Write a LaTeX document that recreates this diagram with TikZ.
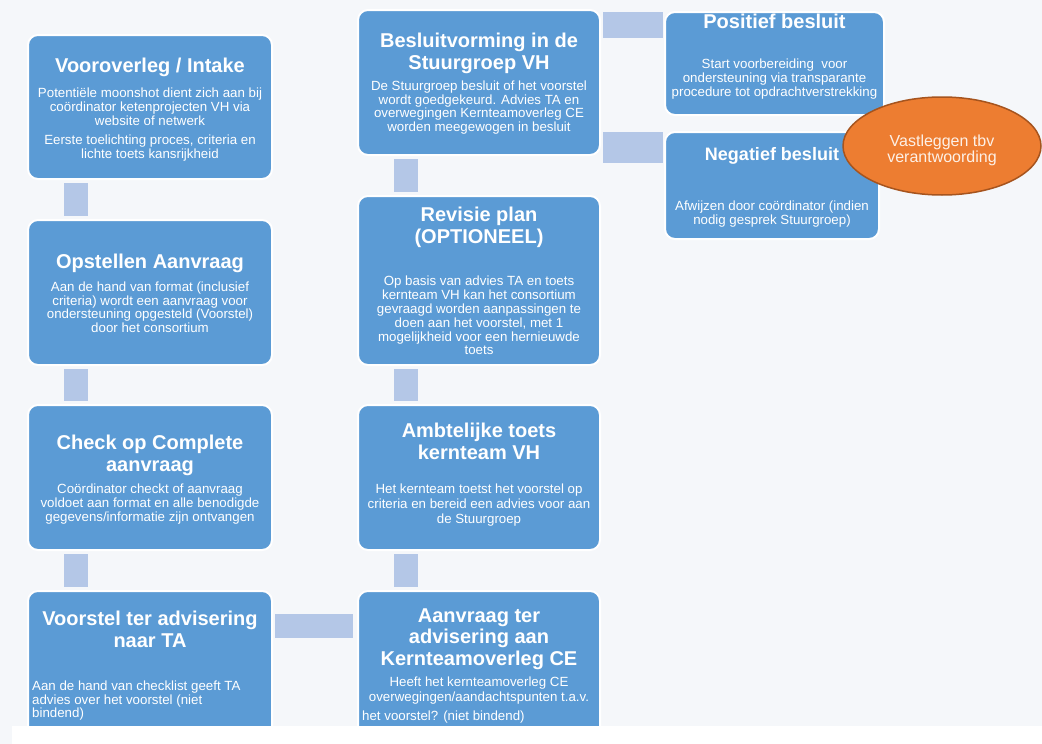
\documentclass[tikz,border=0pt]{standalone}
\usepackage{fontspec}
\setmainfont{Liberation Sans}
\usepackage{tikz}
\usetikzlibrary{positioning,shapes.geometric}
\definecolor{pagebg}{RGB}{245,247,250}
\definecolor{boxblue}{RGB}{91,155,213}
\definecolor{barblue}{RGB}{180,199,231}
\definecolor{myorange}{RGB}{237,125,49}
\definecolor{orangeedge}{RGB}{166,84,30}
\definecolor{paletext}{RGB}{253,240,230}
\tikzstyle{box}=[draw=white,line width=2pt,fill=boxblue,rounded corners=10pt,inner sep=0pt]
\tikzstyle{ttl}=[text=white,inner sep=0pt,align=center,font=\fontsize{20}{22}\selectfont\bfseries]
\tikzstyle{txt}=[text=white,inner sep=0pt,align=center,font=\fontsize{13.3}{13.8}\selectfont]
\tikzstyle{conn}=[draw=barblue,line width=24pt,shorten <=3pt,shorten >=3pt]
\tikzstyle{vast}=[ellipse,draw=orangeedge,line width=1.5pt,fill=myorange,text=paletext,
  minimum width=198pt,minimum height=98pt,inner sep=0pt,align=center,font=\fontsize{16}{16}\selectfont]

\begin{document}
\begin{tikzpicture}[x=1pt,y=-1pt]
\useasboundingbox (0,0) rectangle (1042,744);
\fill[pagebg] (0,0) rectangle (1042,744);

% linker kolom
\node[box,minimum width=244pt,minimum height=144pt,anchor=north west] (intake) at (27,34) {};
\node[box,minimum width=244pt,minimum height=145pt,below=39pt of intake] (opstel) {};
\node[box,minimum width=244pt,minimum height=145pt,below=38pt of opstel] (check) {};
\node[box,minimum width=244pt,minimum height=150pt,below=39pt of check] (voorstel) {};

% middelste kolom
\node[box,minimum width=242pt,minimum height=145pt,anchor=north west] (besluit) at (357,9) {};
\node[box,minimum width=242pt,minimum height=169pt,below=39pt of besluit] (revisie) {};
\node[box,minimum width=242pt,minimum height=145pt,below=38pt of revisie] (toets) {};
\node[box,minimum width=242pt,minimum height=150pt,below=39pt of toets] (kce) {};

% rechter kolom
\node[box,minimum width=219pt,minimum height=103pt,anchor=north west] (pos) at (664,11) {};
\node[box,minimum width=214pt,minimum height=107pt,anchor=north west] (neg) at (664,131) {};

% verbindingen
\draw[conn] ([xshift=49pt]intake.south west) -- ([xshift=49pt]opstel.north west);
\draw[conn] ([xshift=49pt]opstel.south west) -- ([xshift=49pt]check.north west);
\draw[conn] ([xshift=49pt]check.south west) -- ([xshift=49pt]voorstel.north west);
\draw[conn] ([xshift=48.5pt]besluit.south west) -- ([xshift=48.5pt]revisie.north west);
\draw[conn] ([xshift=48.5pt]revisie.south west) -- ([xshift=48.5pt]toets.north west);
\draw[conn] ([xshift=48.5pt]toets.south west) -- ([xshift=48.5pt]kce.north west);
\draw[conn,shorten <=2pt,shorten >=4pt] ([yshift=-35.5pt]voorstel.north east) -- ([yshift=-35.5pt]kce.north west);
\coordinate[below=14pt of pos.north west] (cpos);
\coordinate[below=16.5pt of neg.north west] (cneg);
\draw[conn,line width=26pt,shorten <=2pt,shorten >=1pt] (cpos -| besluit.east) -- (cpos);
\draw[conn,line width=31pt,shorten <=2pt,shorten >=1pt] (cneg -| besluit.east) -- (cneg);

% teksten
\node[ttl,below=24pt of intake.north] (intake-t) {Vooroverleg / Intake};
\node[txt,below=54pt of intake.north] (intake-b) {Potentiële moonshot dient zich aan bij\\coördinator ketenprojecten VH via\\website of netwerk\\[5pt]Eerste toelichting proces, criteria en\\lichte toets kansrijkheid};

\node[ttl,below=34.5pt of opstel.north] (opstel-t) {Opstellen Aanvraag};
\node[txt,font=\fontsize{13.3}{13.4}\selectfont,below=63pt of opstel.north] (opstel-b) {Aan de hand van format (inclusief\\criteria) wordt een aanvraag voor\\ondersteuning opgesteld (Voorstel)\\door het consortium};

\node[ttl,below=30.5pt of check.north] (check-t) {Check op Complete\\aanvraag};
\node[txt,below=80pt of check.north] (check-b) {Coördinator checkt of aanvraag\\voldoet aan format en alle benodigde\\gegevens/informatie zijn ontvangen};

\node[ttl,below=21pt of voorstel.north] (voorstel-t) {Voorstel ter advisering\\naar TA};
\node[txt,align=left,below right=90.5pt and 5pt of voorstel.north west] (voorstel-b) {Aan de hand van checklist geeft TA\\advies over het voorstel (niet\\bindend)};

\node[ttl,below=23.5pt of besluit.north] (besluit-t) {Besluitvorming in de\\Stuurgroep VH};
\node[txt,font=\fontsize{13.3}{13.4}\selectfont,below=72pt of besluit.north] (besluit-b) {De Stuurgroep besluit of het voorstel\\wordt goedgekeurd. Advies TA en\\overwegingen Kernteamoverleg CE\\worden meegewogen in besluit};

\node[ttl,below=12pt of revisie.north] (revisie-t) {Revisie plan\\(OPTIONEEL)};
\node[txt,below=81pt of revisie.north] (revisie-b) {Op basis van advies TA en toets\\kernteam VH kan het consortium\\gevraagd worden aanpassingen te\\doen aan het voorstel, met 1\\mogelijkheid voor een hernieuwde\\toets};

\node[ttl,below=18.5pt of toets.north] (toets-t) {Ambtelijke toets\\kernteam VH};
\node[txt,font=\fontsize{13.3}{14.8}\selectfont,below=80pt of toets.north] (toets-b) {Het kernteam toetst het voorstel op\\criteria en bereid een advies voor aan\\de Stuurgroep};

\node[ttl,font=\fontsize{20}{21.5}\selectfont\bfseries,below=18.5pt of kce.north] (kce-t) {Aanvraag ter\\advisering aan\\Kernteamoverleg CE};
\node[txt,font=\fontsize{13.3}{15}\selectfont,below=86.5pt of kce.north] (kce-b) {Heeft het kernteamoverleg CE\\overwegingen/aandachtspunten t.a.v.};
\node[txt,align=left,below right=121pt and 5pt of kce.north west] (kce-c) {het voorstel? (niet bindend)};

\node[ttl,below=3pt of pos.north] (pos-t) {Positief besluit};
\node[txt,below=48pt of pos.north] (pos-b) {Start voorbereiding\ \ voor\\ondersteuning via transparante\\procedure tot opdrachtverstrekking};

\node[ttl,font=\fontsize{18}{20}\selectfont\bfseries,below=16.5pt of neg.north] (neg-t) {Negatief besluit};
\node[txt,below=70pt of neg.north] (neg-b) {Afwijzen door coördinator (indien\\nodig gesprek Stuurgroep)};

% vastleggen
\node[vast] (vast) at (942,146) {\rule{0pt}{20.7pt}Vastleggen tbv\\verantwoording};

% witte rand onderaan
\fill[white] (12,726) rectangle (1042,744);
\end{tikzpicture}
\end{document}
